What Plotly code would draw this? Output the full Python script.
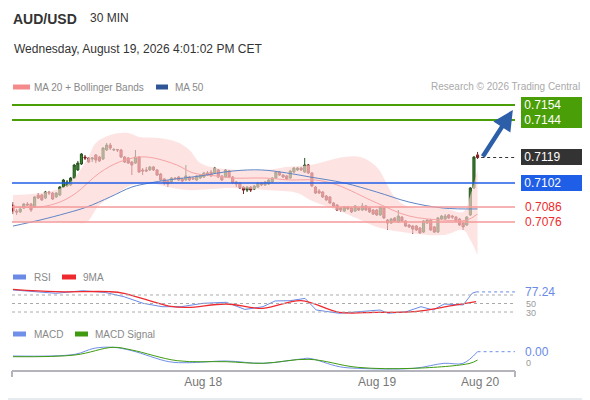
import plotly.graph_objects as go

# ---- AUD/USD 30 min candles ----
opens = [0.70873, 0.70833, 0.70827, 0.70853, 0.70880, 0.70880, 0.70860, 0.70940, 0.70940, 0.70920,
         0.70957, 0.70953, 0.70927, 0.70940, 0.70993, 0.71000, 0.71007, 0.71053, 0.71107, 0.71147,
         0.71193, 0.71187, 0.71180, 0.71207, 0.71193, 0.71180, 0.71240, 0.71273, 0.71240, 0.71243,
         0.71240, 0.71193, 0.71187, 0.71160, 0.71153, 0.71193, 0.71107, 0.71107, 0.71107, 0.71127,
         0.71107, 0.71080, 0.71047, 0.71033, 0.71027, 0.71053, 0.71060, 0.71047, 0.71040, 0.71060,
         0.71053, 0.71040, 0.71053, 0.71060, 0.71087, 0.71093, 0.71087, 0.71107, 0.71067, 0.71060,
         0.71100, 0.71060, 0.71027, 0.71020, 0.70993, 0.70973, 0.70993, 0.70980, 0.70993, 0.71020,
         0.71007, 0.71013, 0.71027, 0.71053, 0.71093, 0.71073, 0.71067, 0.71053, 0.71093, 0.71107,
         0.71120, 0.71093, 0.71140, 0.71087, 0.70993, 0.70967, 0.70960, 0.70933, 0.70927, 0.70887,
         0.70873, 0.70853, 0.70833, 0.70860, 0.70853, 0.70833, 0.70853, 0.70840, 0.70867, 0.70853,
         0.70840, 0.70840, 0.70807, 0.70853, 0.70773, 0.70753, 0.70787, 0.70760, 0.70793, 0.70767,
         0.70740, 0.70733, 0.70733, 0.70720, 0.70693, 0.70753, 0.70773, 0.70727, 0.70693, 0.70780,
         0.70780, 0.70807, 0.70800, 0.70793, 0.70780, 0.70753, 0.70740, 0.70807, 0.70987, 0.71207]
closes = [0.70833, 0.70827, 0.70847, 0.70880, 0.70873, 0.70840, 0.70927, 0.70920, 0.70907, 0.70960,
          0.70953, 0.70913, 0.70953, 0.70993, 0.71040, 0.71027, 0.71053, 0.71140, 0.71153, 0.71213,
          0.71187, 0.71160, 0.71187, 0.71173, 0.71167, 0.71253, 0.71273, 0.71253, 0.71243, 0.71240,
          0.71193, 0.71160, 0.71153, 0.71140, 0.71193, 0.71093, 0.71100, 0.71100, 0.71127, 0.71107,
          0.71073, 0.71040, 0.71020, 0.71013, 0.71053, 0.71050, 0.71040, 0.71033, 0.71067, 0.71040,
          0.71047, 0.71067, 0.71073, 0.71087, 0.71073, 0.71067, 0.71120, 0.71060, 0.71040, 0.71107,
          0.71060, 0.71020, 0.71013, 0.70987, 0.70973, 0.70993, 0.70973, 0.71000, 0.71020, 0.71007,
          0.71027, 0.71040, 0.71053, 0.71093, 0.71073, 0.71060, 0.71047, 0.71100, 0.71120, 0.71120,
          0.71107, 0.71140, 0.71087, 0.71000, 0.70953, 0.70953, 0.70927, 0.70907, 0.70887, 0.70867,
          0.70840, 0.70840, 0.70860, 0.70847, 0.70827, 0.70867, 0.70840, 0.70867, 0.70840, 0.70827,
          0.70813, 0.70807, 0.70860, 0.70787, 0.70753, 0.70780, 0.70767, 0.70800, 0.70767, 0.70733,
          0.70727, 0.70713, 0.70707, 0.70687, 0.70767, 0.70773, 0.70707, 0.70693, 0.70787, 0.70800,
          0.70800, 0.70787, 0.70793, 0.70767, 0.70740, 0.70727, 0.70793, 0.70987, 0.71193, 0.71190]
highs = [0.70893, 0.70847, 0.70853, 0.70887, 0.70893, 0.70887, 0.70933, 0.70953, 0.70947, 0.70967,
         0.70967, 0.70960, 0.70960, 0.71000, 0.71047, 0.71040, 0.71060, 0.71147, 0.71167, 0.71220,
         0.71207, 0.71193, 0.71193, 0.71213, 0.71200, 0.71260, 0.71287, 0.71287, 0.71253, 0.71247,
         0.71247, 0.71200, 0.71193, 0.71167, 0.71240, 0.71200, 0.71120, 0.71127, 0.71133, 0.71133,
         0.71113, 0.71087, 0.71053, 0.71040, 0.71060, 0.71060, 0.71067, 0.71053, 0.71140, 0.71067,
         0.71060, 0.71073, 0.71080, 0.71093, 0.71100, 0.71107, 0.71127, 0.71113, 0.71073, 0.71113,
         0.71107, 0.71067, 0.71033, 0.71027, 0.71000, 0.71000, 0.71000, 0.71007, 0.71027, 0.71027,
         0.71033, 0.71047, 0.71060, 0.71100, 0.71100, 0.71080, 0.71073, 0.71107, 0.71127, 0.71127,
         0.71127, 0.71187, 0.71147, 0.71093, 0.71000, 0.70980, 0.70967, 0.70940, 0.70933, 0.70893,
         0.70880, 0.70860, 0.70867, 0.70867, 0.70860, 0.70873, 0.70860, 0.70887, 0.70873, 0.70860,
         0.70847, 0.70847, 0.70867, 0.70860, 0.70780, 0.70787, 0.70793, 0.70840, 0.70800, 0.70773,
         0.70747, 0.70740, 0.70740, 0.70727, 0.70773, 0.70780, 0.70780, 0.70733, 0.70793, 0.70807,
         0.70813, 0.70813, 0.70807, 0.70800, 0.70787, 0.70760, 0.70800, 0.70993, 0.71200, 0.71227]
lows = [0.70813, 0.70807, 0.70820, 0.70847, 0.70867, 0.70827, 0.70853, 0.70913, 0.70900, 0.70913,
        0.70940, 0.70907, 0.70920, 0.70933, 0.70987, 0.70993, 0.71000, 0.71047, 0.71100, 0.71140,
        0.71173, 0.71153, 0.71160, 0.71153, 0.71160, 0.71173, 0.71233, 0.71240, 0.71233, 0.71227,
        0.71187, 0.71153, 0.71147, 0.71073, 0.71147, 0.71087, 0.71073, 0.71093, 0.71100, 0.71100,
        0.71067, 0.71033, 0.71007, 0.70993, 0.71020, 0.71040, 0.71033, 0.71027, 0.71033, 0.71033,
        0.71040, 0.71033, 0.71047, 0.71053, 0.71067, 0.71060, 0.71080, 0.71053, 0.71033, 0.71053,
        0.71053, 0.71013, 0.70993, 0.70980, 0.70947, 0.70960, 0.70960, 0.70973, 0.70987, 0.71000,
        0.71000, 0.71007, 0.71020, 0.71047, 0.71067, 0.71053, 0.71040, 0.71047, 0.71087, 0.71100,
        0.71100, 0.71087, 0.71080, 0.70993, 0.70947, 0.70947, 0.70920, 0.70900, 0.70880, 0.70860,
        0.70833, 0.70827, 0.70827, 0.70840, 0.70820, 0.70827, 0.70833, 0.70833, 0.70833, 0.70820,
        0.70807, 0.70800, 0.70800, 0.70780, 0.70707, 0.70747, 0.70760, 0.70753, 0.70760, 0.70727,
        0.70720, 0.70680, 0.70700, 0.70680, 0.70687, 0.70747, 0.70700, 0.70687, 0.70687, 0.70773,
        0.70773, 0.70780, 0.70780, 0.70760, 0.70733, 0.70707, 0.70733, 0.70800, 0.70980, 0.71180]
bars = list(range(1, len(closes) + 1))

# ---- indicators (bar position, value) ----
ma20_x = [1, 8.5, 14, 18.5, 25, 30.5, 36, 40, 46.5, 51, 57.5, 62, 71, 78, 85, 91, 102, 111, 120.5, 127, 130]
ma20_y = [0.7086, 0.7086, 0.70893, 0.70953, 0.71087, 0.7116, 0.71193, 0.71187, 0.7114, 0.71087, 0.71067,
          0.71053, 0.71053, 0.7104, 0.7104, 0.71007, 0.70887, 0.708, 0.70773, 0.70773, 0.70813]
ma50_x = [1, 8.5, 16, 21.5, 28, 34, 39, 44, 53, 62, 70, 77, 83.5, 93, 102, 111, 120.5, 130]
ma50_y = [0.70733, 0.70773, 0.7082, 0.7086, 0.70927, 0.70993, 0.7102, 0.7104, 0.71067, 0.711, 0.71107,
          0.71087, 0.7106, 0.7102, 0.7096, 0.70893, 0.70853, 0.70847]
bb_up_x = [1, 8.5, 16, 21.5, 24, 28, 33, 36, 41.5, 46.5, 50, 53, 57.5, 71, 77, 83.5, 93, 97.5, 102, 107,
           111, 120.5, 126, 128, 130]
bb_up_y = [0.7094, 0.70953, 0.71007, 0.71173, 0.71287, 0.7134, 0.71353, 0.71327, 0.7132, 0.71293, 0.7124,
           0.71153, 0.7112, 0.71107, 0.71127, 0.7114, 0.71193, 0.71193, 0.71127, 0.70927, 0.7086, 0.70853,
           0.70827, 0.7094, 0.71107]
bb_lo_x = [1, 11, 18.5, 21.5, 25, 30.5, 34, 39, 44, 49.5, 62, 71, 80, 83.5, 93, 97.5, 102, 111, 120.5,
           126, 128, 130]
bb_lo_y = [0.7076, 0.70767, 0.70753, 0.7076, 0.70873, 0.7096, 0.71007, 0.7102, 0.70993, 0.70973, 0.70987,
           0.70973, 0.70953, 0.70907, 0.7082, 0.70773, 0.70727, 0.70687, 0.70673, 0.70707, 0.7064, 0.7054]

rsi_x = [1, 7.9, 12.9, 20.4, 26.6, 31.8, 37.1, 42.4, 47.7, 53.8, 60.2, 65.4, 70.4, 73.8, 77.9, 82.1,
         85.2, 91.6, 96.6, 102.9, 105.2, 110.2, 114.3, 117.7, 120.7, 126, 128.5, 129.6]
rsi_y = [81.8, 77.8, 74, 80, 76, 66, 50.5, 42.5, 42.5, 50.5, 52.8, 36, 42.5, 56, 56.6, 62,
         34.7, 27, 30.7, 34.7, 27, 30.7, 42.5, 34.7, 48.8, 46.5, 74, 77.24]
rsi_ma_x = [1, 12.9, 27.7, 31.8, 44.3, 49.6, 60.2, 70.4, 81, 91.6, 101.8, 112.4, 122.9, 129.6]
rsi_ma_y = [83.4, 77.8, 77.8, 74, 44, 41, 48.8, 38.7, 56.6, 29.3, 29.3, 30.7, 44.8, 54.2]

macd_x = [1, 18.2, 23.5, 28.8, 34, 44.3, 49.6, 60.2, 70.4, 81, 83.2, 91.6, 96.6, 112.4, 120.7, 126, 130]
macd_y = [0.00008, 0.000114, 0.000234, 0.000254, 0.000186, -0.000034, -0.000054, -0.00002, -0.000066,
          0.00002, 0.000034, -0.000134, -0.000166, -0.000166, -0.000066, -0.000066, 0.000166]
sig_x = [1, 18.2, 28.8, 34, 46.6, 60.2, 70.4, 83.2, 96.6, 112.4, 127.9, 130]
sig_y = [0.000066, 0.0001, 0.000254, 0.0002, -0.000014, -0.000034, -0.000066, 0.000014, -0.000146,
         -0.000166, -0.000066, 0.0]

resist = [0.7154, 0.7144]
pivot = 0.7102
supports = [0.7086, 0.7076]
last_price = 0.7119
rsi_last = 77.24
rsi_levels = [70, 50, 30]
date_ticks = [53.8, 102.1, 130.7]
date_labels = ["Aug 18", "Aug 19", "Aug 20"]

FONT = "Liberation Sans, Arial, sans-serif"
GREEN = "#4a9e07"
BLUE = "#1f5ee6"
XMAX = 140.4
PAGE = 8  # browser body margin


def px(x):  # page pixel -> paper x
    return (x - 12) / 503


def py(y):  # page pixel -> paper y
    return 1 - (y - PAGE) / 392


fig = go.Figure()

# bollinger band
fig.add_trace(go.Scatter(x=bb_up_x, y=bb_up_y, mode="lines", line=dict(width=0, shape="spline"),
                         hoverinfo="skip"))
fig.add_trace(go.Scatter(x=bb_lo_x, y=bb_lo_y, mode="lines", line=dict(width=0, shape="spline"),
                         fill="tonexty", fillcolor="rgba(253,212,212,0.65)", hoverinfo="skip"))
fig.add_trace(go.Scatter(x=ma20_x, y=ma20_y, mode="lines",
                         line=dict(color="#f5a3a3", width=1, shape="spline")))
fig.add_trace(go.Scatter(x=ma50_x, y=ma50_y, mode="lines",
                         line=dict(color="#5f85c4", width=1, shape="spline")))

fig.add_trace(go.Candlestick(
    x=bars, open=opens, high=highs, low=lows, close=closes,
    increasing=dict(line=dict(color="#2b4f22", width=1), fillcolor="#2e8b22"),
    decreasing=dict(line=dict(color="#7a2020", width=1), fillcolor="#e02424"),
    whiskerwidth=0, hoverinfo="skip"))

# RSI panel
fig.add_trace(go.Scatter(x=rsi_x, y=rsi_y, mode="lines", yaxis="y2",
                         line=dict(color="#6a8ae6", width=1)))
fig.add_trace(go.Scatter(x=rsi_ma_x, y=rsi_ma_y, mode="lines", yaxis="y2",
                         line=dict(color="#ee2a2f", width=1.3, shape="spline")))

# MACD panel
fig.add_trace(go.Scatter(x=macd_x, y=macd_y, mode="lines", yaxis="y3",
                         line=dict(color="#6f8fe8", width=1, shape="spline")))
fig.add_trace(go.Scatter(x=sig_x, y=sig_y, mode="lines", yaxis="y3",
                         line=dict(color="#3f9a10", width=1, shape="spline")))

# label pointers
fig.add_trace(go.Scatter(x=[142.0, 142.0, 142.0], y=[resist[0], last_price, pivot], mode="markers",
                         marker=dict(symbol="triangle-left", size=11,
                                     color=[GREEN, "#333333", BLUE], line=dict(width=0)),
                         cliponaxis=False, hoverinfo="skip"))

shapes = []
for lvl in resist:
    shapes.append(dict(type="line", xref="paper", yref="y", x0=0, x1=1, y0=lvl, y1=lvl,
                       line=dict(color=GREEN, width=2)))
shapes.append(dict(type="line", xref="paper", yref="y", x0=0, x1=1, y0=pivot, y1=pivot,
                   line=dict(color=BLUE, width=1.5)))
for lvl in supports:
    shapes.append(dict(type="line", xref="paper", yref="y", x0=0, x1=1, y0=lvl, y1=lvl,
                       line=dict(color="#f59a9a", width=1.5)))
shapes.append(dict(type="line", xref="x", yref="y", x0=131, x1=XMAX, y0=last_price, y1=last_price,
                   line=dict(color="#333333", width=1, dash="dot")))
for lvl in rsi_levels:
    shapes.append(dict(type="line", xref="paper", yref="y2", x0=0, x1=1, y0=lvl, y1=lvl,
                       line=dict(color="#aaaaaa", width=1, dash="dot")))
shapes.append(dict(type="line", xref="x", yref="y2", x0=129.6, x1=XMAX, y0=rsi_last, y1=rsi_last,
                   line=dict(color="#6a8ae6", width=1, dash="dot")))
shapes.append(dict(type="line", xref="x", yref="y3", x0=130, x1=XMAX, y0=macd_y[-1], y1=macd_y[-1],
                   line=dict(color="#6f8fe8", width=1, dash="dot")))
# axis end caps
for xp in (0, 1):
    shapes.append(dict(type="line", xref="paper", yref="paper", x0=xp, x1=xp, y0=py(371), y1=py(377),
                       line=dict(color="#b4b4bc", width=2)))
# legend swatches
for x0, x1, y, col in [(13, 30, 87, "#f58a8a"), (156, 168, 87, "#2f5597"),
                       (13, 26, 277, "#6a8ae6"), (62, 76, 277, "#ee2a2f"),
                       (13, 26, 334, "#6f8fe8"), (75, 88, 334, "#3f9a10")]:
    shapes.append(dict(type="rect", xref="paper", yref="paper", x0=px(x0), x1=px(x1),
                       y0=py(y + 2.5), y1=py(y - 2.5), fillcolor=col, line=dict(width=0)))
# page frame (right and bottom edges)
shapes.append(dict(type="line", xref="paper", yref="paper", x0=px(589), x1=px(589), y0=py(400), y1=py(8),
                   line=dict(color="#e6ebef", width=2)))
shapes.append(dict(type="line", xref="paper", yref="paper", x0=px(8), x1=px(590), y0=py(399), y1=py(399),
                   line=dict(color="#e6ebef", width=2)))

ann = []


def text(x, y, s, size=11, color="#888888", anchor="left", bold=False):
    ann.append(dict(xref="paper", yref="paper", x=px(x), y=py(y), text=f"<b>{s}</b>" if bold else s,
                    showarrow=False, xanchor=anchor, yanchor="middle",
                    font=dict(family=FONT, size=size, color=color)))


text(11, 19, "AUD/USD", 14, "#333333", bold=True)
text(88, 18, "30 MIN", 12, "#333333")
text(12, 49, "Wednesday, August 19, 2026 4:01:02 PM CET", 12, "#333333")
text(32, 87, "MA 20 + Bollinger Bands", 10, "#888888")
text(173, 87, "MA 50", 10, "#888888")
text(582, 86, "Research © 2026 Trading Central", 10, "#aaaaaa", anchor="right")
text(32, 277, "RSI", 10, "#888888")
text(81, 277, "9MA", 10, "#888888")
text(32, 334, "MACD", 10, "#888888")
text(93, 334, "MACD Signal", 10, "#888888")


def tag(lvl, s, bg, ref="y"):
    ann.append(dict(xref="paper", yref=ref, x=px(521), y=lvl, text=s, showarrow=False,
                    xanchor="left", yanchor="middle", width=64, height=16, align="left",
                    bgcolor=bg, borderpad=0, borderwidth=0,
                    font=dict(family=FONT, size=12, color="white")))


for lvl in resist:
    tag(lvl, "&nbsp;" + f"{lvl:.4f}", GREEN)
tag(last_price, "&nbsp;" + f"{last_price:.4f}", "#333333")
tag(pivot, "&nbsp;" + f"{pivot:.4f}", BLUE)
for lvl in supports:
    ann.append(dict(xref="paper", yref="y", x=px(523), y=lvl, text=f"{lvl:.4f}", showarrow=False,
                    xanchor="left", yanchor="middle", font=dict(family=FONT, size=12, color="#ee2b2b")))

ann.append(dict(xref="paper", yref="y2", x=px(523), y=rsi_last, text=f"{rsi_last:.2f}", showarrow=False,
                xanchor="left", yanchor="middle", font=dict(family=FONT, size=12, color="#6a8ae6")))
for lvl in (50, 30):
    ann.append(dict(xref="paper", yref="y2", x=px(524), y=lvl - 2, text=str(lvl), showarrow=False,
                    xanchor="left", yanchor="middle", font=dict(family=FONT, size=9, color="#999999")))
ann.append(dict(xref="paper", yref="y3", x=px(523), y=macd_y[-1], text=f"{macd_y[-1]:.2f}", showarrow=False,
                xanchor="left", yanchor="middle", font=dict(family=FONT, size=12, color="#6a8ae6")))
ann.append(dict(xref="paper", yref="y3", x=px(524), y=-0.00005, text="0", showarrow=False,
                xanchor="left", yanchor="middle", font=dict(family=FONT, size=9, color="#999999")))

# target arrow
ann.append(dict(xref="x", yref="y", x=139.8, y=0.71507, axref="x", ayref="y", ax=131.2, ay=0.71187,
                showarrow=True, arrowhead=2, arrowsize=0.9, arrowwidth=4.5, arrowcolor="#2d5fa8", text=""))

hidden = dict(showgrid=False, zeroline=False, showticklabels=False, showline=False, fixedrange=True)
fig.update_layout(
    width=582, height=392, margin=dict(l=4, r=75, t=0, b=0),
    paper_bgcolor="white", plot_bgcolor="white", showlegend=False, boxgap=0.15,
    xaxis=dict(range=[0.72, XMAX], anchor="free", position=py(371), showgrid=False, zeroline=False,
               showline=True, linecolor="#b4b4bc", linewidth=2, ticks="", tickvals=date_ticks,
               ticktext=date_labels, tickfont=dict(family=FONT, size=12, color="#777777"),
               rangeslider=dict(visible=False)),
    yaxis=dict(hidden, domain=[py(262), py(95)], range=[0.704933, 0.716067]),
    yaxis2=dict(hidden, domain=[py(320), py(285)], range=[11.2, 93.5]),
    yaxis3=dict(hidden, domain=[py(370), py(340)], range=[-0.0002, 0.0004]),
    shapes=shapes, annotations=ann,
)

fig.write_html("out.html")
